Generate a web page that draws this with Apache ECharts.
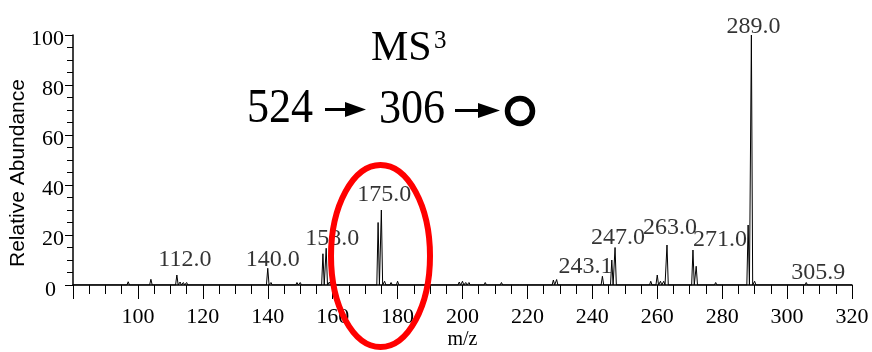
<!DOCTYPE html>
<html>
<head>
<meta charset="utf-8">
<script src="https://cdn.jsdelivr.net/npm/echarts@6/dist/echarts.min.js"></script>
<style>
html,body{margin:0;padding:0;background:#fff;}
#chart{width:872px;height:352px;}
</style>
</head>
<body>
<div id="chart"></div>
<script>
// ---- data ----
const mzValues = [97, 104, 112, 113, 114, 115, 140, 141, 149, 150, 157, 158, 159, 174, 175, 176, 178, 180,
  199, 200, 201, 202, 207, 212, 218, 228, 229, 243.1, 246, 247, 258, 260, 261, 262, 263, 271, 272, 278,
  288, 289, 290, 305.9];
const intensities = [1.3, 2.3, 4.0, 1.2, 1.0, 1.0, 6.7, 1.0, 1.0, 1.0, 12.5, 14.7, 1.2, 25, 30, 1.5, 1.0, 1.5,
  1.2, 1.5, 1.0, 1.0, 1.0, 1.0, 0.8, 2.0, 2.2, 3.5, 10, 15, 1.5, 4.0, 1.5, 1.5, 16, 14, 7.5, 1.0,
  24, 100, 1.5, 1.0];
const labeledPeaks = [112, 140, 158, 175, 243.1, 247, 263, 271, 289, 305.9];
const xTicks = [100, 120, 140, 160, 180, 200, 220, 240, 260, 280, 300, 320];
const yTicks = [0, 20, 40, 60, 80, 100];

// label placement (style only)
const labelOffsets = {
  112: [8, -3], 140: [5, 4], 158: [6, 3], 175: [3, -3], 243.1: [-17, 3],
  247: [3, 2.5], 263: [3, -5], 271: [27, 2], 289: [2, 4], 305.9: [12, 2.5]
};

const halfWidth = 0.4;
const profile = [[80, 0]];
mzValues.forEach((m, i) => {
  profile.push([m - halfWidth, 0], [m, intensities[i]], [m + halfWidth, 0]);
});
profile.push([320, 0]);

const labelData = labeledPeaks.map(m => {
  const i = mzValues.indexOf(m);
  return {
    value: [m, intensities[i]],
    label: { offset: labelOffsets[m], formatter: m.toFixed(1) }
  };
});

const serif = '"Liberation Serif","Times New Roman",serif';
const chart = echarts.init(document.getElementById('chart'), null, { renderer: 'canvas' });
chart.setOption({
  animation: false,
  backgroundColor: '#fff',
  grid: { left: 73, right: 20, top: 35, bottom: 67, containLabel: false, outerBoundsMode: 'none' },
  xAxis: {
    type: 'value', min: 80, max: 320, interval: 20,
    name: 'm/z', nameLocation: 'middle', nameGap: 45, nameMoveOverlap: false,
    nameTextStyle: { fontFamily: serif, fontSize: 20, color: '#000' },
    axisLine: { lineStyle: { color: '#000', width: 1.5 } },
    axisTick: { length: 14, lineStyle: { color: '#000', width: 1 } },
    minorTick: { show: true, splitNumber: 4, length: 9, lineStyle: { color: '#000', width: 1 } },
    splitLine: { show: false },
    axisLabel: {
      margin: 21, fontFamily: serif, fontSize: 22, color: '#000',
      formatter: v => (xTicks.indexOf(v) >= 0 ? String(v) : '')
    }
  },
  yAxis: {
    type: 'value', min: 0, max: 100, interval: 20,
    name: 'Relative Abundance', nameLocation: 'middle', nameGap: 44, nameRotate: 90, nameMoveOverlap: false,
    nameTextStyle: { fontFamily: '"Liberation Sans", Arial, sans-serif', fontSize: 21, color: '#000', padding: [0, 26, 0, 0] },
    axisLine: { show: true, lineStyle: { color: '#000', width: 1.5 } },
    axisTick: { show: true, length: 8, lineStyle: { color: '#000', width: 1 } },
    minorTick: { show: true, splitNumber: 4, length: 6, lineStyle: { color: '#000', width: 1 } },
    splitLine: { show: false },
    axisLabel: {
      margin: 9, fontFamily: serif, fontSize: 22, color: '#000',
      formatter: v => (yTicks.indexOf(v) >= 0 ? (v === 0 ? '{z|0}' : '{a|' + v + '}') : ''),
      rich: {
        a: { fontFamily: serif, fontSize: 22, color: '#000', padding: [8, 0, 0, 0] },
        z: { fontFamily: serif, fontSize: 22, color: '#000', padding: [10, 8, 0, 0] }
      }
    }
  },
  series: [
    {
      type: 'line', data: profile, showSymbol: false, symbol: 'none',
      lineStyle: { color: '#000', width: 1 }, z: 3
    },
    {
      type: 'scatter', data: labelData, symbolSize: 1,
      itemStyle: { color: 'rgba(0,0,0,0)' },
      label: { show: true, position: 'top', distance: 0, fontFamily: serif, fontSize: 24, color: '#000' },
      z: 4
    }
  ],
  graphic: [
    { type: 'text', x: 371, y: 48.5, style: { text: 'MS', fontFamily: serif, fontSize: 42, fill: '#000', textAlign: 'left', verticalAlign: 'middle', textVerticalAlign: 'middle' } },
    { type: 'text', x: 434, y: 41.5, style: { text: '3', fontFamily: serif, fontSize: 25, fill: '#000', textAlign: 'left', verticalAlign: 'middle', textVerticalAlign: 'middle' } },
    { type: 'text', x: 247, y: 109.5, scaleX: 0.9, style: { text: '524', fontFamily: serif, fontSize: 49, fill: '#000', textAlign: 'left', verticalAlign: 'middle', textVerticalAlign: 'middle' } },
    { type: 'text', x: 379, y: 110, scaleX: 0.9, style: { text: '306', fontFamily: serif, fontSize: 49, fill: '#000', textAlign: 'left', verticalAlign: 'middle', textVerticalAlign: 'middle' } },
    { type: 'line', shape: { x1: 325, y1: 109.5, x2: 350, y2: 109.5 }, style: { stroke: '#000', lineWidth: 3 } },
    { type: 'polygon', shape: { points: [[345, 102], [366, 109.5], [345, 117]] }, style: { fill: '#000' } },
    { type: 'line', shape: { x1: 455, y1: 110.5, x2: 482, y2: 110.5 }, style: { stroke: '#000', lineWidth: 3 } },
    { type: 'polygon', shape: { points: [[478, 103], [500, 110.5], [478, 118]] }, style: { fill: '#000' } },
    { type: 'circle', shape: { cx: 520, cy: 111, r: 12.5 }, style: { fill: 'none', stroke: '#000', lineWidth: 5.5 } },
    { type: 'ellipse', shape: { cx: 380.5, cy: 256, rx: 49.5, ry: 91 }, style: { fill: 'none', stroke: '#ff0000', lineWidth: 6 }, z: 100 }
  ]
});
</script>
</body>
</html>
